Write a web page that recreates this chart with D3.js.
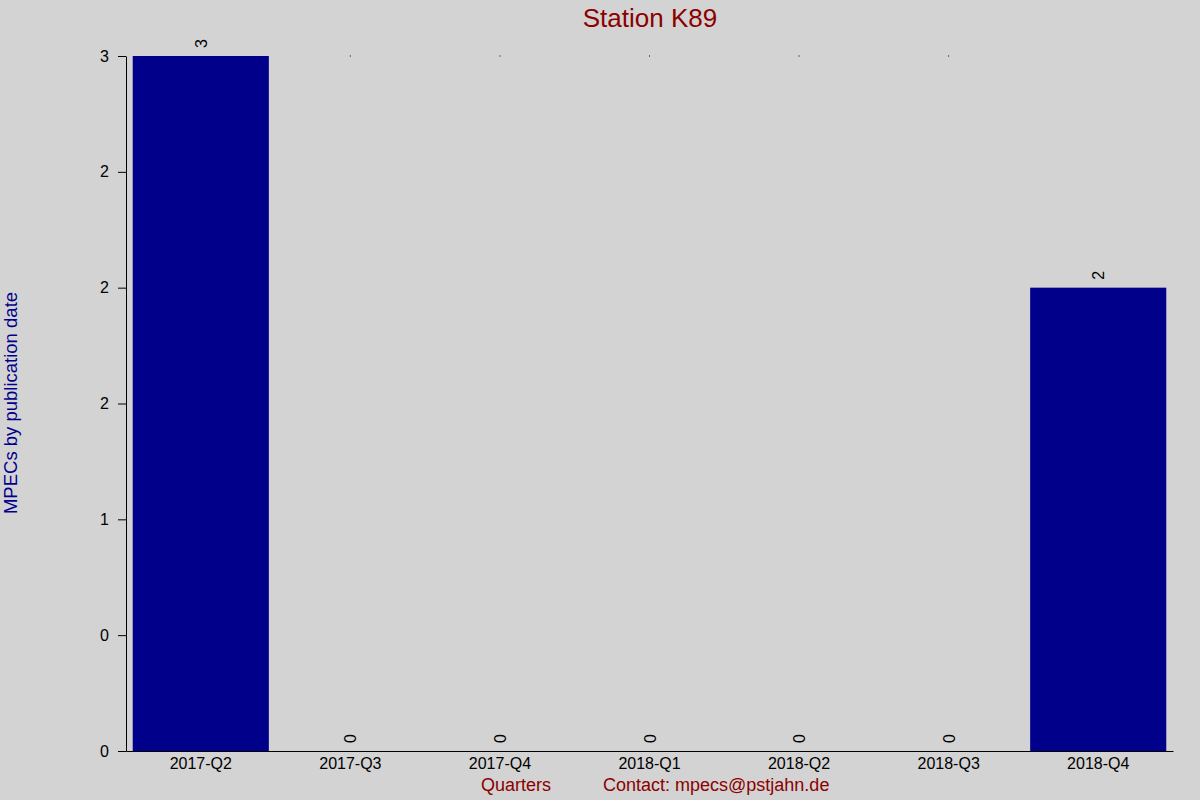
<!DOCTYPE html>
<html>
<head>
<meta charset="utf-8">
<script src="https://cdn.jsdelivr.net/npm/d3@7"></script>
<style>
  body { margin: 0; background: #d3d3d3; }
  text { font-family: "Liberation Sans", Arial, sans-serif; }
</style>
</head>
<body>
<script>
var quarters = ['2017-Q2', '2017-Q3', '2017-Q4', '2018-Q1', '2018-Q2', '2018-Q3', '2018-Q4'];
var mpecs = [3, 0, 0, 0, 0, 0, 2];
var yTickValues = [0, 0.5, 1, 1.5, 2, 2.5, 3];
var yTickLabels = ['0', '0', '1', '2', '2', '2', '3'];

var width = 1200,
	height = 800;

var svg = d3.select('body').append('svg')
	.attr('width', width)
	.attr('height', height)
	.style('display', 'block');

svg.append('rect')
	.attr('width', width)
	.attr('height', height)
	.attr('fill', '#d3d3d3');

var x = d3.scaleBand()
	.domain(quarters)
	.range([126, 1173])
	.paddingInner(0.09)
	.paddingOuter(0.045);

var y = d3.scaleLinear()
	.domain([0, 3])
	.range([751, 56]);

// bars
svg.selectAll('.bar')
	.data(mpecs)
	.enter().append('rect')
	.attr('class', 'bar')
	.attr('x', function (d, i) { return x(quarters[i]); })
	.attr('y', function (d) { return y(d); })
	.attr('width', x.bandwidth())
	.attr('height', function (d) { return y(0) - y(d); })
	.attr('fill', '#00008b');

// tiny marker at the top for empty quarters
svg.selectAll('.dot')
	.data(quarters.filter(function (q, i) { return mpecs[i] === 0; }))
	.enter().append('rect')
	.attr('class', 'dot')
	.attr('x', function (q) { return x(q) + x.bandwidth() / 2 - 0.5; })
	.attr('y', y(3) - 0.5)
	.attr('width', 1)
	.attr('height', 1)
	.attr('fill', '#000');

// value labels
svg.selectAll('.val')
	.data(mpecs)
	.enter().append('text')
	.attr('class', 'val')
	.attr('transform', function (d, i) {
		return 'translate(' + (x(quarters[i]) + x.bandwidth() / 2 + 6) + ',' + (y(d) - 8) + ') rotate(-90)';
	})
	.attr('font-size', 16)
	.attr('fill', '#000')
	.text(function (d) { return d; });

// y axis
var yAxis = d3.axisLeft(y)
	.tickValues(yTickValues)
	.tickFormat(function (d, i) { return yTickLabels[i]; })
	.tickSize(8)
	.tickSizeOuter(0)
	.tickPadding(9);

var gy = svg.append('g')
	.attr('transform', 'translate(126,0)')
	.call(yAxis);
gy.attr('font-size', 16).attr('font-family', '"Liberation Sans", Arial, sans-serif');
gy.selectAll('text').attr('fill', '#000');
gy.selectAll('line, path').attr('stroke', '#000');

// x axis
var xAxis = d3.axisBottom(x)
	.tickSize(0)
	.tickSizeOuter(0)
	.tickPadding(7);

var gx = svg.append('g')
	.attr('transform', 'translate(0,751)')
	.call(xAxis);
gx.attr('font-size', 16).attr('font-family', '"Liberation Sans", Arial, sans-serif');
gx.selectAll('text').attr('fill', '#000');
gx.select('.domain').attr('stroke', '#000');

// title
svg.append('text')
	.attr('x', 650)
	.attr('y', 27)
	.attr('text-anchor', 'middle')
	.attr('font-size', 26)
	.attr('fill', '#8b0000')
	.text('Station K89');

// y label
svg.append('text')
	.attr('transform', 'translate(17,403) rotate(-90)')
	.attr('text-anchor', 'middle')
	.attr('font-size', 18.5)
	.attr('fill', '#00008b')
	.text('MPECs by publication date');

// x labels
svg.append('text')
	.attr('x', 516)
	.attr('y', 791)
	.attr('text-anchor', 'middle')
	.attr('font-size', 18)
	.attr('fill', '#8b0000')
	.text('Quarters');

svg.append('text')
	.attr('x', 603)
	.attr('y', 791)
	.attr('font-size', 18)
	.attr('fill', '#8b0000')
	.text('Contact: mpecs@pstjahn.de');
</script>
</body>
</html>
